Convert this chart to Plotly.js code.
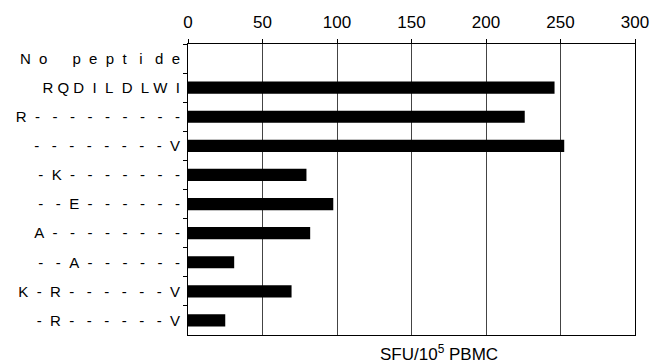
<!DOCTYPE html>
<html>
<head>
<meta charset="utf-8">
<script src="https://cdn.plot.ly/plotly-3.0.1.min.js"></script>
<style>html,body{margin:0;padding:0;background:#fff;}#chart{width:658px;height:364px;}</style>
</head>
<body>
<div id="chart"></div>
<script>
// Peptide sequences, one character per residue cell (space = empty cell)
var peptides = [
  "No peptide",
  "RQDILDLWI",
  "R---------",
  "--------V",
  "-K-------",
  "--E------",
  "A--------",
  "--A------",
  "K-R------V",
  "-R------V"
];
var sfu = [0, 246, 226, 252.5, 79.5, 97.5, 82, 31, 69.5, 25];
var xTicks = [0, 50, 100, 150, 200, 250, 300];
var xTitle = "SFU/10<sup>5</sup> PBMC";

// lay each character out in fixed-width cells using non-breaking spaces
var FS = 15, CELL = 16.5, SP = 0.278 * FS;
var W = {N:.722,o:.556,p:.556,e:.556,t:.278,i:.222,d:.556,R:.722,Q:.778,D:.722,I:.278,
         L:.556,W:.944,V:.667,K:.667,E:.667,A:.667,"-":.333," ":0};
function cellText(s) {
  var out = "", prev = null, pending = 0;
  for (var k = 0; k < s.length; k++) {
    var c = s[k];
    if (c === " ") { pending += CELL; continue; }
    var w = W[c] * FS;
    if (prev !== null) {
      var gap = CELL + pending - (prev + w) / 2;
      var n = Math.max(1, Math.round(gap / SP));
      out += new Array(n + 1).join("\u00A0");
    }
    out += c; prev = w; pending = 0;
  }
  return out;
}
var labels = peptides.map(cellText);

var trace = {
  type: "bar",
  orientation: "h",
  x: sfu,
  y: labels,
  marker: {color: "#000000", line: {width: 0}},
  width: 0.42,
  hoverinfo: "none"
};

var layout = {
  width: 658, height: 364,
  margin: {l: 188, r: 23, t: 44, b: 29},
  paper_bgcolor: "#ffffff",
  plot_bgcolor: "#ffffff",
  font: {family: "Liberation Sans, Arial, sans-serif", size: FS, color: "#000"},
  showlegend: false,
  xaxis: {
    side: "top",
    range: [0, 300],
    tickvals: xTicks,
    ticktext: xTicks.map(String),
    ticks: "outside",
    ticklen: 4,
    tickcolor: "#000",
    ticklabelstandoff: 4,
    showline: true,
    linecolor: "#000",
    linewidth: 1,
    mirror: true,
    showgrid: true,
    gridcolor: "#444",
    gridwidth: 1,
    zeroline: false,
    tickfont: {size: 17}
  },
  yaxis: {
    type: "category",
    autorange: "reversed",
    ticks: "outside",
    tickson: "boundaries",
    ticklen: 4,
    tickcolor: "#000",
    ticklabelstandoff: 4,
    showline: true,
    linecolor: "#000",
    linewidth: 1,
    mirror: true,
    showgrid: false,
    zeroline: false,
    tickfont: {size: FS}
  },
  annotations: [{
    text: xTitle,
    xref: "paper", yref: "paper",
    x: 0.5615, y: 0, yshift: -18,
    xanchor: "center", yanchor: "middle",
    showarrow: false,
    font: {size: 17}
  }]
};

Plotly.newPlot("chart", [trace], layout, {displayModeBar: false, staticPlot: true});
</script>
</body>
</html>
